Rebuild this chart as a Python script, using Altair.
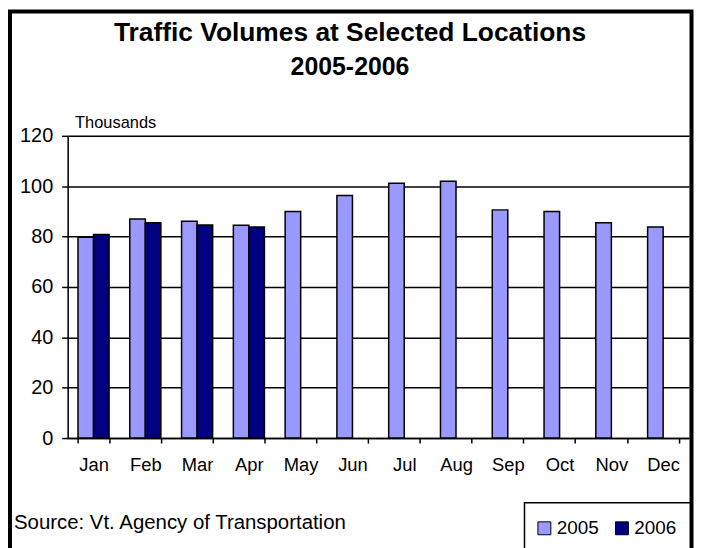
import altair as alt
import pandas as pd

months = ["Jan", "Feb", "Mar", "Apr", "May", "Jun", "Jul", "Aug", "Sep", "Oct", "Nov", "Dec"]
years = ["2005", "2006"]
v2005 = [79.7, 87.0, 86.1, 84.5, 90.0, 96.3, 101.2, 102.0, 90.6, 90.0, 85.5, 83.8]
v2006 = [80.8, 85.5, 84.6, 83.8]
y_ticks = [0, 20, 40, 60, 80, 100, 120]
title_line1 = "Traffic Volumes at Selected Locations"
title_line2 = "2005-2006"
y_title = "Thousands"
source = "Source: Vt. Agency of Transportation"
colors = ["#9999FF", "#000080"]

rows = []
for m, v in zip(months, v2005):
    rows.append({"month": m, "year": "2005", "value": v})
for m, v in zip(months, v2006):
    rows.append({"month": m, "year": "2006", "value": v})
df = pd.DataFrame(rows)

FONT = "Liberation Sans"

bars = alt.Chart(df).mark_bar(stroke="black", strokeWidth=1.5).encode(
    x=alt.X("month:N", sort=months, title=None,
            scale=alt.Scale(paddingInner=0.4, paddingOuter=0.2),
            axis=alt.Axis(labelAngle=0, labelFontSize=18.5, labelColor="black",
                          labelPadding=13, tickBand="extent", tickSize=5,
                          tickColor="black", tickWidth=1.5, domainColor="black",
                          domainWidth=1.5, grid=False, labelFont=FONT)),
    xOffset=alt.XOffset("year:N", sort=years, scale=alt.Scale(paddingInner=0, paddingOuter=0)),
    y=alt.Y("value:Q", scale=alt.Scale(domain=[0, 120], nice=False),
            axis=alt.Axis(values=y_ticks, title=y_title, titleAngle=0, titleAlign="left",
                          titleBaseline="alphabetic", titleX=7, titleY=-8,
                          titleFontSize=16.5, titleFontWeight="normal", titleColor="black",
                          titleFont=FONT,
                          labelFontSize=20, labelColor="black", labelPadding=9,
                          labelFont=FONT,
                          tickSize=6, tickColor="black", tickWidth=1.5,
                          domainColor="black", domainWidth=1.5,
                          grid=True, gridColor="black", gridWidth=1.5, gridOpacity=1)),
    color=alt.Color("year:N", scale=alt.Scale(domain=years, range=colors),
                    legend=alt.Legend(orient="none", legendX=470, legendY=385,
                                      direction="horizontal", title=None,
                                      symbolType="square", symbolSize=169,
                                      symbolStrokeColor="black", symbolStrokeWidth=1,
                                      symbolOpacity=1,
                                      labelFontSize=19, labelColor="black", labelFont=FONT,
                                      columnPadding=13, labelOffset=3, padding=0)),
)

one = alt.Data(values=[{"k": 1}])

frame = alt.Chart(one).mark_rect(fill="transparent", stroke="black", strokeWidth=4).encode(
    x=alt.value(-58), x2=alt.value(627.5), y=alt.value(-125), y2=alt.value(440)
)

legend_box = alt.Chart(one).mark_rect(fill="transparent", stroke="black", strokeWidth=1.5).encode(
    x=alt.value(459.5), x2=alt.value(628), y=alt.value(369), y2=alt.value(440)
)

source_text = alt.Chart(one).mark_text(
    align="left", baseline="alphabetic", fontSize=20.5, font=FONT, color="black"
).encode(x=alt.value(-54), y=alt.value(395), text=alt.datum(source))

title1 = alt.Chart(one).mark_text(
    align="center", baseline="alphabetic", fontSize=26.5, fontWeight="bold", font=FONT, color="black"
).encode(x=alt.value(284), y=alt.value(-95), text=alt.datum(title_line1))

title2 = alt.Chart(one).mark_text(
    align="center", baseline="alphabetic", fontSize=25, fontWeight="bold", font=FONT, color="black"
).encode(x=alt.value(284), y=alt.value(-61), text=alt.datum(title_line2))

chart = alt.layer(bars, legend_box, frame, source_text, title1, title2).properties(
    width=625, height=304,
    padding={"left": 60, "top": 127, "right": 5, "bottom": 109},
    autosize=alt.AutoSizeParams(type="none"),
).configure_view(stroke=None).configure(font=FONT)

chart.save("out.html", embed_options={"renderer": "svg", "actions": False})
